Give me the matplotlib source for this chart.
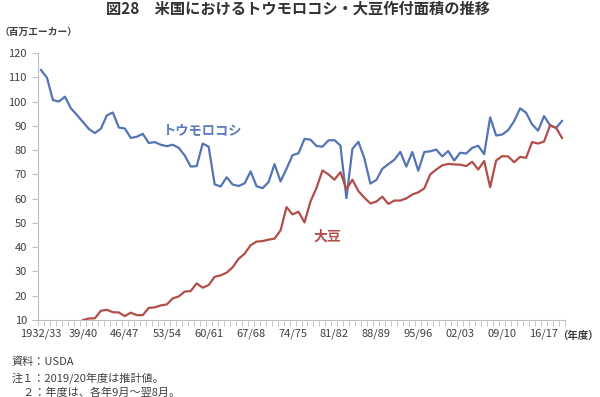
import matplotlib
matplotlib.use("Agg")
import matplotlib.pyplot as plt
from matplotlib.ticker import FixedLocator
import numpy as np

plt.rcParams['font.family'] = ['Noto Sans CJK JP', 'DejaVu Sans']

# ---------------- data (million acres, 1932/33 .. 2019/20) ----------------
corn = [113.0, 109.8, 100.6, 100.0, 102.0, 97.2, 94.5, 91.6, 88.7, 87.0,
        88.8, 94.3, 95.5, 89.3, 88.9, 85.0, 85.5, 86.7, 82.9, 83.3,
        82.2, 81.6, 82.2, 80.9, 77.8, 73.2, 73.4, 82.7, 81.4, 65.9,
        65.0, 68.8, 65.8, 65.2, 66.3, 71.2, 65.1, 64.3, 66.8, 74.2,
        67.1, 72.3, 77.9, 78.7, 84.6, 84.3, 81.7, 81.4, 84.0, 84.1,
        81.9, 60.2, 80.5, 83.4, 76.6, 66.2, 67.7, 72.3, 74.2, 76.0,
        79.3, 73.2, 79.2, 71.5, 79.2, 79.5, 80.2, 77.4, 79.6, 75.7,
        78.9, 78.6, 80.9, 81.8, 78.3, 93.5, 86.0, 86.4, 88.2, 91.9,
        97.2, 95.4, 90.6, 88.0, 94.0, 90.2, 89.1, 92.0]

soy = [3.7, 3.6, 5.8, 6.0, 6.1, 6.3, 7.1, 10.0, 10.6, 10.7,
       13.8, 14.2, 13.2, 13.1, 11.6, 13.0, 12.0, 12.0, 15.0, 15.2,
       16.0, 16.4, 18.9, 19.7, 21.7, 21.9, 25.1, 23.3, 24.4, 27.8,
       28.4, 29.5, 31.7, 35.2, 37.3, 40.8, 42.3, 42.5, 43.1, 43.5,
       46.9, 56.5, 53.5, 54.6, 50.2, 58.8, 64.4, 71.6, 70.0, 67.8,
       70.9, 63.8, 67.8, 63.1, 60.4, 58.0, 58.8, 60.8, 57.8, 59.2,
       59.2, 60.1, 61.7, 62.6, 64.2, 70.0, 72.0, 73.7, 74.3, 74.1,
       74.0, 73.4, 75.2, 72.0, 75.5, 64.7, 75.7, 77.5, 77.4, 75.0,
       77.2, 76.8, 83.3, 82.7, 83.5, 90.2, 89.2, 85.0]

tick_labels = ["1932/33", "39/40", "46/47", "53/54", "60/61", "67/68", "74/75",
               "81/82", "88/89", "95/96", "02/03", "09/10", "16/17"]
y_ticks = [10, 20, 30, 40, 50, 60, 70, 80, 90, 100, 110, 120]

BLUE = "#5574B4"
RED = "#B24E49"
GREY_TXT = "#404040"
AXIS_C = "#BEBEBE"

# ---------------- figure ----------------
fig = plt.figure(figsize=(6.0, 3.97), dpi=100)
ax = fig.add_axes([0.0633, 0.194, 0.8784, 0.6725])

x = np.arange(len(corn))
ax.plot(x, corn, color=BLUE, lw=1.6, solid_joinstyle="round")
ax.plot(x, soy, color=RED, lw=1.6, solid_joinstyle="round")

ax.set_xlim(-0.5, len(corn) - 0.5)
ax.set_ylim(10, 120)

# axes look (excel-ish)
for s in ["top", "right"]:
    ax.spines[s].set_visible(False)
ax.spines["left"].set_color(AXIS_C)
ax.spines["bottom"].set_color(AXIS_C)

ax.yaxis.set_major_locator(FixedLocator(y_ticks))
ax.tick_params(axis="y", length=4, color=AXIS_C, labelsize=8, labelcolor=GREY_TXT, pad=4)

ax.xaxis.set_major_locator(FixedLocator(np.arange(0, len(corn), 7)))
ax.set_xticklabels(tick_labels)
ax.xaxis.set_minor_locator(FixedLocator(np.arange(len(corn) + 1) - 0.5))
ax.tick_params(axis="x", which="major", length=0, labelsize=8, labelcolor=GREY_TXT, pad=6)
ax.tick_params(axis="x", which="minor", length=4, color=AXIS_C)

# series labels
ax.text(27, 88.3, "トウモロコシ", color="#5B7BBF", fontsize=9.5, fontweight="bold",
        ha="center", va="center")
ax.text(47.8, 44.2, "大豆", color=RED, fontsize=10, fontweight="bold",
        ha="center", va="center")

# titles & notes
fig.text(0.497, 0.977, "図28　米国におけるトウモロコシ・大豆作付面積の推移",
         fontsize=11, fontweight="bold", color="#333333", ha="center", va="center")
fig.text(0.0, 0.919, "（百万エーカー）", fontsize=7, fontweight="bold",
         color=GREY_TXT, ha="left", va="center")
fig.text(0.998, 0.154, "（年度）", fontsize=7.5, fontweight="bold",
         color=GREY_TXT, ha="right", va="center")

fig.text(0.02, 0.088, "資料：USDA", fontsize=8, color=GREY_TXT, va="center")
fig.text(0.02, 0.048, "注１：2019/20年度は推計値。", fontsize=8, color=GREY_TXT, va="center")
fig.text(0.02, 0.012, "　２：年度は、各年9月～翌8月。", fontsize=8, color=GREY_TXT, va="center")

fig.savefig("out.png", dpi=100)
